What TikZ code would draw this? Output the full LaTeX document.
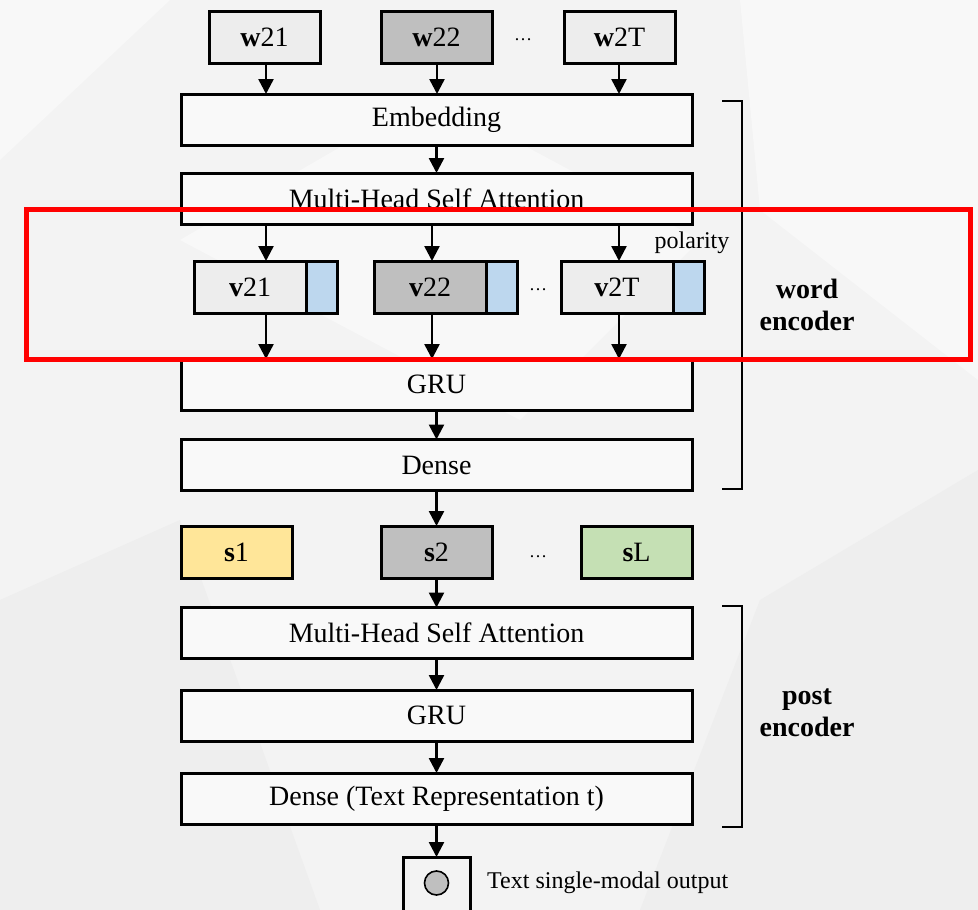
\documentclass[tikz,border=0pt]{standalone}
\usepackage{fontspec}
\setmainfont{Liberation Serif}
\usetikzlibrary{arrows.meta}
\definecolor{bgbase}{HTML}{F3F3F3}
\definecolor{bglight}{HTML}{F8F8F8}
\definecolor{bgdark}{HTML}{EEEEEE}
\definecolor{boxlight}{HTML}{EDEDED}
\definecolor{boxwhite}{HTML}{F9F9F9}
\definecolor{boxgray}{HTML}{BFBFBF}
\definecolor{polblue}{HTML}{BDD7EE}
\definecolor{syellow}{HTML}{FFE699}
\definecolor{sgreen}{HTML}{C5E0B4}
\begin{document}
\begin{tikzpicture}[x=1pt,y=-1pt,
  base/.style={draw=black, line width=3pt, inner sep=0pt, outer sep=0pt,
    font=\fontsize{28}{32}\selectfont},
  token/.style={base, fill=boxlight, minimum width=111pt, minimum height=52pt},
  layer/.style={base, fill=boxwhite, minimum width=511pt, minimum height=51pt},
  vbox/.style={base, fill=boxlight, minimum width=112pt, minimum height=52pt},
  polbox/.style={base, fill=polblue, minimum width=31pt, minimum height=52pt},
  dotsnode/.style={font=\fontsize{18}{20}\selectfont, inner sep=0pt, anchor=base},
  bracket/.style={draw=black, line width=2.6pt},
  arr/.style={draw=black, line width=2.5pt, -{Triangle[length=15pt,width=15pt]}},
  side/.style={font=\fontsize{28}{32}\selectfont\bfseries, align=center, inner sep=0pt},
]
% background with faint facets
\fill[bgbase] (0,0) rectangle (978,910);
\fill[bglight] (740,0) -- (978,0) -- (978,380) -- (760,210) -- cycle;
\fill[bglight] (180,240) -- (430,95) -- (700,240) -- (520,420) -- cycle;
\fill[bgdark] (0,600) -- (180,520) -- (320,910) -- (0,910) -- cycle;
\fill[bgdark] (760,600) -- (978,470) -- (978,910) -- (640,910) -- cycle;
\fill[bglight] (0,0) -- (170,0) -- (0,160) -- cycle;
\useasboundingbox (0,0) rectangle (978,910);

% column guides
\coordinate (c1) at (266,0);
\coordinate (c2) at (437,0);
\coordinate (c3) at (619,0);
\coordinate (c2v) at (432,0);

% input tokens
\node[token] (w21) at (264.5,37) {\textbf{w}21};
\node[token, fill=boxgray] (w22) at (436.5,37) {\textbf{w}22};
\node[token] (w2T) at (619.5,37) {\textbf{w}2T};
\node[dotsnode] (wdots) at (523,40) {…};

% word encoder layers
\node[layer] (emb) at (436.5,119.5) {Embedding};
\node[layer] (mhsa1) at (436.5,198.5) {Multi-Head Self Attention};

\node[vbox] (v21) at (250,287) {\textbf{v}21};
\node[polbox, anchor=west] (p21) at (v21.east) {};
\node[vbox, fill=boxgray] (v22) at (430,287) {\textbf{v}22};
\node[polbox, anchor=west] (p22) at (v22.east) {};
\node[vbox] (v2T) at (617,287) {\textbf{v}2T};
\node[polbox, anchor=west] (p2T) at (v2T.east) {};
\node[dotsnode] (vdots) at (538,290) {…};
\node[font=\fontsize{24}{28}\selectfont, inner sep=0pt] (pol) at (692,243) {polarity};

\node[layer] (gru1) at (436.5,384.5) {GRU};
\node[layer] (dense1) at (436.5,465) {Dense};

% sentence vectors
\node[token, fill=syellow] (s1) at (236.5,552) {\textbf{s}1};
\node[token, fill=boxgray] (s2) at (436.5,552) {\textbf{s}2};
\node[token, fill=sgreen] (sL) at (636.5,552) {\textbf{s}L};
\node[dotsnode] (sdots) at (538,557) {…};

% post encoder layers
\node[layer] (mhsa2) at (436.5,633) {Multi-Head Self Attention};
\node[layer] (gru2) at (436.5,715.5) {GRU};
\node[layer] (dense2) at (436.5,798.5) {Dense (Text Representation t)};

% output
\node[base, fill=none, minimum width=67pt, minimum height=66pt] (out) at (436.5,890) {};
\node[circle, draw=black, line width=1.6pt, fill=boxgray, minimum size=24pt, inner sep=0pt] (dot) at (436.5,883) {};
\node[font=\fontsize{24}{28}\selectfont, inner sep=0pt, anchor=west] (outlbl) at (487,883) {Text single-modal output};

% connectors
\draw[arr] (c1 |- w21.south) -- (c1 |- emb.north);
\draw[arr] (c2 |- w22.south) -- (c2 |- emb.north);
\draw[arr] (c3 |- w2T.south) -- (c3 |- emb.north);
\draw[arr] (emb) -- (mhsa1);
\draw[arr] (c1 |- mhsa1.south) -- (c1 |- v21.north);
\draw[arr] (c2v |- mhsa1.south) -- (c2v |- v22.north);
\draw[arr] (c3 |- mhsa1.south) -- (c3 |- v2T.north);
\draw[arr] (c1 |- v21.south) -- (c1 |- gru1.north);
\draw[arr] (c2v |- v22.south) -- (c2v |- gru1.north);
\draw[arr] (c3 |- v2T.south) -- (c3 |- gru1.north);
\draw[arr] (gru1) -- (dense1);
\draw[arr] (dense1) -- (s2);
\draw[arr] (s2) -- (mhsa2);
\draw[arr] (mhsa2) -- (gru2);
\draw[arr] (gru2) -- (dense2);
\draw[arr] (dense2) -- (out);

% encoder brackets and labels
\coordinate (b1t) at (722,101);
\coordinate (b1b) at (722,489);
\draw[bracket] (b1t) -- ++(20,0) |- (b1b);
\node[side] (wenc) at (807,305) {word\\encoder};
\coordinate (b2t) at (722,606);
\coordinate (b2b) at (722,827);
\draw[bracket] (b2t) -- ++(20,0) |- (b2b);
\node[side] (penc) at (807,713) {post\\encoder};

% highlight frame
\node[draw=red, line width=5pt, minimum width=944pt, minimum height=150pt, inner sep=0pt] (hl) at (498.5,284) {};
\end{tikzpicture}
\end{document}
